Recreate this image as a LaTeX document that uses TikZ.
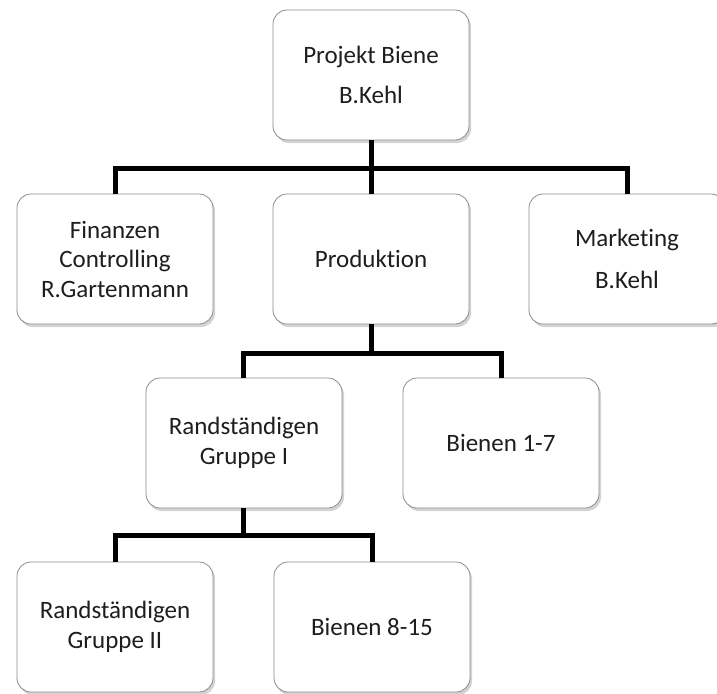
\documentclass[tikz,border=0pt]{standalone}
\usepackage{fontspec}
\setmainfont[Ligatures=NoCommon]{Carlito}
\usepackage{tikz}
\usetikzlibrary{shapes,shadows,positioning}

\definecolor{boxgray}{RGB}{140,140,140}
\definecolor{txtgray}{RGB}{30,30,30}

\begin{document}
\begin{tikzpicture}[x=1pt, y=-1pt,
        orgbox/.style={draw=boxgray, line width=0.8pt, fill=white, rectangle, rounded corners=14pt,
            minimum width=196pt, minimum height=130pt, align=center, text=txtgray,
            font=\fontsize{25}{29.5}\selectfont,
            drop shadow={shadow xshift=2pt, shadow yshift=-3pt, opacity=0.35}},
        conn/.style={line width=5pt, black}]
        \useasboundingbox (0,0) rectangle (717,693);

        \node[orgbox] (Proj) at (371,75) {Projekt Biene\\[11pt]B.Kehl};

        \node[orgbox] (Fin) at (115,259) {Finanzen\\Controlling\\R.Gartenmann};
        \node[orgbox] (Prod) at (371,259) {Produktion};
        \node[orgbox] (Mark) at (627,259) {Marketing\\[12pt]B.Kehl};

        \node[orgbox] (RG1) at (244,443) {Randständigen\\Gruppe I};
        \node[orgbox] (B17) at (501,443) {Bienen 1-7};

        \node[orgbox] (RG2) at (115,627) {Randständigen\\Gruppe II};
        \node[orgbox] (B815) at (372,627) {Bienen 8-15};

        \coordinate (J1) at (371,168);
        \coordinate (J2) at (371,353);
        \coordinate (J3) at (243,535);

        \draw[conn] (Proj.south) -- (J1);
        \draw[conn] (Fin.north) |- (J1) -| (Mark.north);
        \draw[conn] (J1) -- (Prod.north);

        \draw[conn] (Prod.south) -- (J2);
        \draw[conn] (RG1.north -| J3) |- (J2) -| (B17.north);

        \draw[conn] (RG1.south -| J3) -- (J3);
        \draw[conn] (RG2.north) |- (J3) -| (B815.north);
    \end{tikzpicture}
\end{document}
